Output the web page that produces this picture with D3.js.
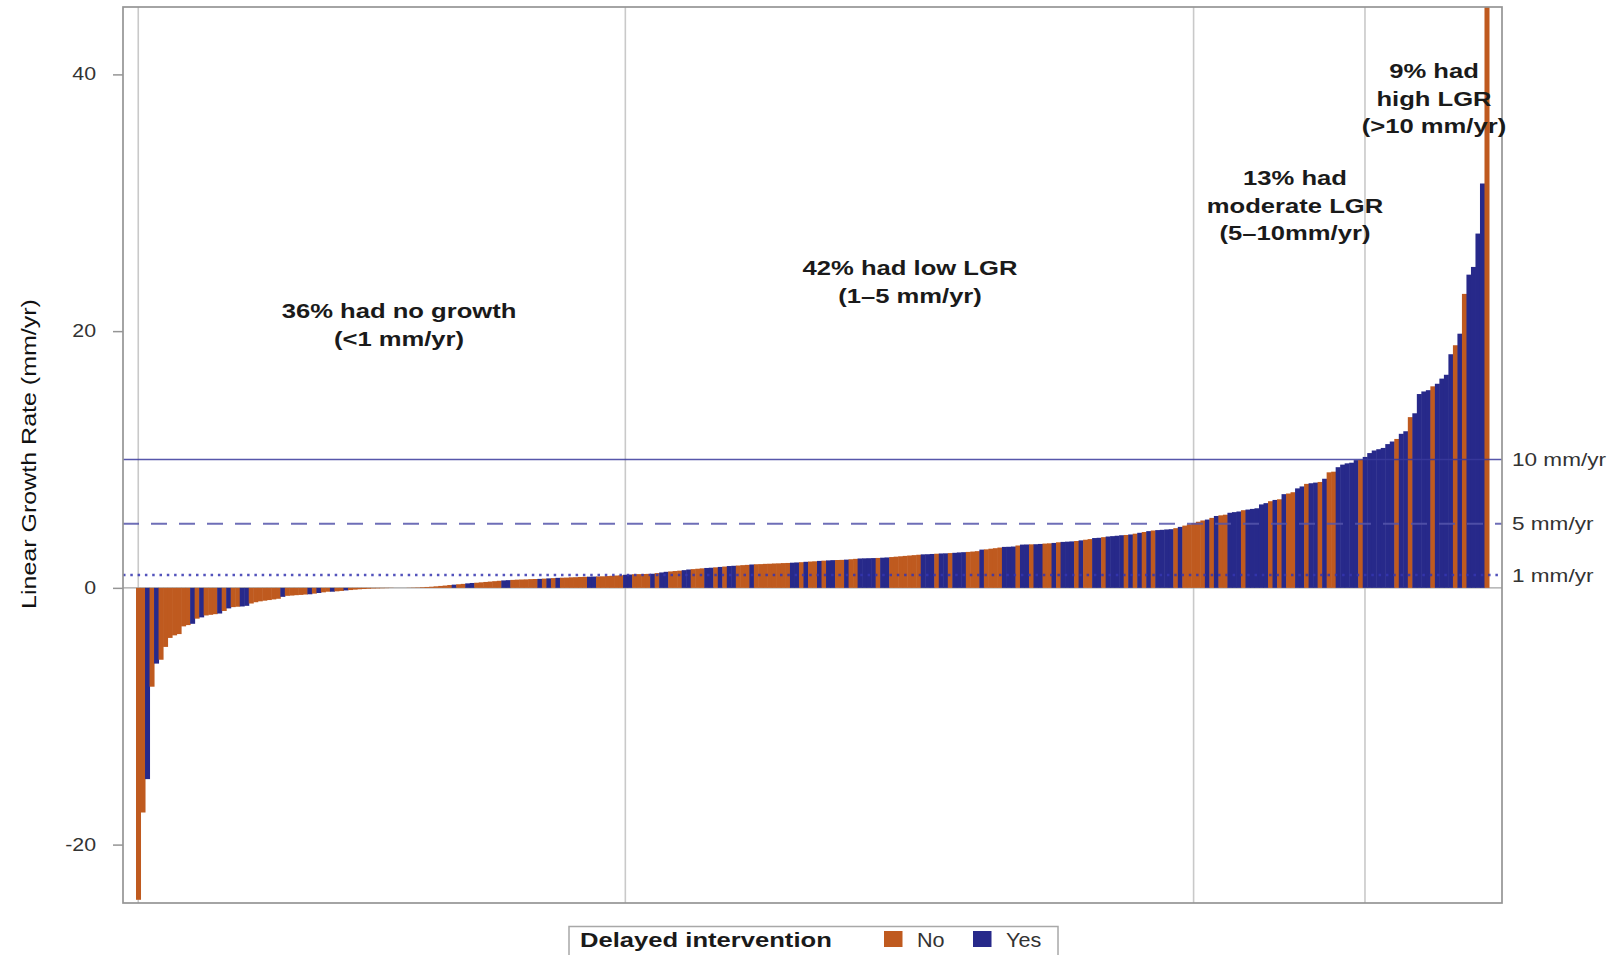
<!DOCTYPE html>
<html lang="en">
<head>
<meta charset="UTF-8">
<title>Linear Growth Rate waterfall</title>
<script src="https://cdn.jsdelivr.net/npm/d3@7.8.5/dist/d3.min.js"></script>
<style>
    body{
        margin:0;
        background:#fff;
    }
    svg{
        display:block;
        font-family:"Liberation Sans", Arial, sans-serif;
    }
</style>
</head>
<body>
<div id="chart"></div>
<script>
// Linear growth rate per patient (mm/yr), sorted, split by growth group
// delayed flags: 1 = Yes (delayed intervention), 0 = No
const noGrowthLGR = [
    -24.3,-17.5,-14.9,-7.7,-5.9,-5.6,-4.6,-3.9,-3.7,-3.6,
    -3.0,-2.9,-2.8,-2.4,-2.3,-2.15,-2.1,-2.05,-2.0,-1.8,
    -1.6,-1.5,-1.47,-1.45,-1.4,-1.22,-1.12,-1.05,-1.0,-0.95,
    -0.9,-0.85,-0.7,-0.62,-0.6,-0.57,-0.55,-0.52,-0.5,-0.45,
    -0.4,-0.35,-0.3,-0.3,-0.27,-0.24,-0.2,-0.17,-0.14,-0.11,
    -0.09,-0.07,-0.05,-0.04,-0.03,-0.02,-0.01,0,0,0,
    0.01,0.02,0.03,0.05,0.07,0.09,0.12,0.15,0.18,0.22,
    0.25,0.28,0.31,0.35,0.38,0.40,0.43,0.46,0.49,0.52,
    0.55,0.58,0.6,0.62,0.64,0.65,0.66,0.68,0.69,0.7,
    0.72,0.74,0.76,0.78,0.79,0.8,0.82,0.83,0.85,0.86,
    0.87,0.88,0.89,0.9,0.92,0.94,0.96,0.98
];
const noGrowthDelayed = [
    0,0,1,0,1,0,0,0,0,0,
    0,0,1,0,1,0,0,0,1,0,
    1,0,0,1,1,0,0,0,0,0,
    0,0,1,0,0,0,0,0,1,0,
    1,0,0,1,0,0,1,0,0,0,
    0,0,0,0,0,0,0,0,0,0,
    0,0,0,0,0,0,0,0,0,0,
    1,0,0,1,1,0,0,0,0,0,
    0,1,1,0,0,0,0,0,0,1,
    0,1,0,1,0,0,0,0,0,0,
    1,1,0,0,0,0,0,0
];

const lowLGR = [
    1.02,1.04,1.06,1.07,1.08,1.09,1.1,1.15,1.2,1.25,
    1.28,1.31,1.34,1.38,1.43,1.46,1.49,1.52,1.55,1.57,
    1.6,1.63,1.66,1.7,1.72,1.74,1.77,1.79,1.82,1.84,
    1.85,1.87,1.88,1.9,1.91,1.93,1.94,1.96,1.98,2.0,
    2.03,2.05,2.07,2.1,2.12,2.14,2.16,2.17,2.18,2.2,
    2.23,2.26,2.29,2.3,2.31,2.32,2.33,2.35,2.37,2.4,
    2.43,2.46,2.49,2.52,2.55,2.58,2.61,2.62,2.64,2.66,
    2.68,2.69,2.71,2.73,2.76,2.78,2.8,2.83,2.86,2.98,
    3.0,3.05,3.09,3.14,3.19,3.2,3.22,3.3,3.37,3.38,
    3.39,3.4,3.42,3.45,3.47,3.5,3.55,3.58,3.6,3.62,
    3.65,3.7,3.75,3.8,3.88,3.9,3.95,4.0,4.03,4.06,
    4.1,4.12,4.16,4.22,4.29,4.35,4.42,4.47,4.5,4.52,
    4.55,4.57,4.65,4.75,4.85,4.95
];
const lowDelayed = [
    1,1,0,0,0,0,1,0,1,1,
    0,0,0,1,1,0,0,0,1,1,
    0,1,0,1,1,0,0,0,1,0,
    0,0,0,0,0,0,0,1,1,0,
    1,0,0,1,0,1,1,0,0,1,
    0,0,1,1,1,1,0,1,1,0,
    0,0,0,0,0,0,1,1,1,0,
    1,1,0,1,1,1,0,0,0,1,
    0,0,0,0,1,1,1,0,1,1,
    0,1,1,0,0,1,0,1,1,1,
    0,1,0,0,1,1,0,1,1,1,
    1,0,1,0,1,0,1,0,1,1,
    1,1,0,1,0,0
];

const moderateLGR = [
    5.05,5.15,5.25,5.32,5.45,5.6,5.65,5.7,5.85,5.9,
    5.95,6.05,6.1,6.15,6.2,6.5,6.6,6.75,6.85,6.9,
    7.3,7.35,7.45,7.75,7.9,8.1,8.15,8.2,8.25,8.5,
    9.0,9.05,9.4,9.6,9.7,9.75,9.95,9.97
];
const moderateDelayed = [
    0,0,0,1,0,1,0,0,1,1,
    1,0,1,1,1,1,1,0,1,0,
    1,0,0,1,1,0,1,1,0,1,
    0,0,1,1,1,1,1,0
];

const highLGR = [
    10.2,10.5,10.7,10.8,10.9,11.2,11.4,11.6,12.0,12.2,
    13.3,13.6,15.1,15.3,15.4,15.7,15.9,16.3,16.6,18.2,
    18.9,19.8,22.9,24.4,25.0,27.6,31.5,46
];
const highDelayed = [
    1,1,1,1,1,1,1,0,1,1,
    0,1,1,1,1,0,1,1,1,1,
    0,1,0,1,1,1,1,0
];

const groupLabels = [
    ["36% had no growth", "(<1 mm/yr)"],
    ["42% had low LGR", "(1\u20135 mm/yr)"],
    ["13% had", "moderate LGR", "(5\u201310mm/yr)"],
    ["9% had", "high LGR", "(>10 mm/yr)"]
];
const refValues = [10, 5, 1];
const refLabels = ["10 mm/yr", "5 mm/yr", "1 mm/yr"];
const yTicks = [-20, 0, 20, 40];
const legendKeys = ["No", "Yes"];

// ---------------------------------------------------------------
const groups = [noGrowthLGR, lowLGR, moderateLGR, highLGR];
const flags = [noGrowthDelayed, lowDelayed, moderateDelayed, highDelayed];
const data = [];
groups.forEach((vals, g) => {
    vals.forEach((v, i) => data.push({ idx: data.length, value: v, delayed: flags[g][i] ? "Yes" : "No", group: g }));
});
const groupStart = groups.map((_, g) => data.findIndex(d => d.group === g));

const W = 1616, H = 955;
const frame = { left: 123, right: 1502, top: 7, bottom: 903 };
const STRETCH = 1.22;
const color = d3.scaleOrdinal().domain(legendKeys).range(["#BF5A1F", "#27298A"]);

const svg = d3.select("#chart").append("svg")
    .attr("width", W).attr("height", H);

const x = d3.scaleBand()
    .domain(data.map(d => d.idx))
    .range([136, 1489])
    .padding(0);

const y = d3.scaleLinear()
    .domain([-24.55, 45.25])
    .range([frame.bottom, frame.top]);

svg.append("defs").append("clipPath").attr("id", "plot-clip")
    .append("rect")
    .attr("x", frame.left).attr("y", frame.top)
    .attr("width", frame.right - frame.left).attr("height", frame.bottom - frame.top);

// vertical grid lines at group starts
svg.append("g").selectAll("line")
    .data(groupStart)
    .enter().append("line")
    .attr("x1", d => x(d) + x.bandwidth() / 2)
    .attr("x2", d => x(d) + x.bandwidth() / 2)
    .attr("y1", frame.top).attr("y2", frame.bottom)
    .attr("stroke", "#c9c9c9").attr("stroke-width", 1.6);

// zero baseline
svg.append("line")
    .attr("x1", frame.left).attr("x2", frame.right)
    .attr("y1", y(0)).attr("y2", y(0))
    .attr("stroke", "#a3a3a3").attr("stroke-width", 1.3);

// bars
svg.append("g").attr("clip-path", "url(#plot-clip)")
    .selectAll("rect")
    .data(data)
    .enter().append("rect")
    .attr("x", d => x(d.idx))
    .attr("width", x.bandwidth() + 0.5)
    .attr("y", d => Math.min(y(d.value), y(0)))
    .attr("height", d => Math.abs(y(d.value) - y(0)))
    .attr("fill", d => color(d.delayed));

// reference lines
const refStyle = [
    { dash: null, stroke: "#3a3a9c", width: 1.6 },
    { dash: "16,12", stroke: "#5555aa", width: 2 },
    { dash: "2.5,4.8", stroke: "#3535b0", width: 2.3 }
];
refValues.forEach((v, i) => {
    svg.append("line")
        .attr("x1", frame.left).attr("x2", frame.right)
        .attr("y1", y(v)).attr("y2", y(v))
        .attr("stroke", refStyle[i].stroke)
        .attr("stroke-width", refStyle[i].width)
        .attr("stroke-opacity", 0.85)
        .attr("stroke-dasharray", refStyle[i].dash);
    svg.append("text")
        .attr("transform", `translate(${frame.right + 10},${y(v)}) scale(${STRETCH},1)`)
        .attr("dy", "0.35em")
        .style("font-size", "18.5px")
        .attr("fill", "#333")
        .text(refLabels[i]);
});

// frame
svg.append("rect")
    .attr("x", frame.left).attr("y", frame.top)
    .attr("width", frame.right - frame.left).attr("height", frame.bottom - frame.top)
    .attr("fill", "none").attr("stroke", "#959595").attr("stroke-width", 1.7);

// y axis
const yAxis = svg.append("g")
    .attr("transform", `translate(${frame.left},0)`)
    .call(d3.axisLeft(y).tickValues(yTicks).tickSize(10).tickPadding(8).tickFormat(d => String(d)));
yAxis.select(".domain").remove();
yAxis.selectAll(".tick line").attr("stroke", "#959595").attr("stroke-width", 1.5);
yAxis.selectAll(".tick text")
    .attr("x", -27 / STRETCH)
    .attr("transform", `scale(${STRETCH},1)`)
    .style("font-size", "17.5px")
    .style("font-family", "'Liberation Sans', Arial, sans-serif")
    .attr("fill", "#333");

svg.append("text")
    .attr("transform", `translate(29,454) rotate(-90) scale(${STRETCH},1)`)
    .attr("text-anchor", "middle")
    .attr("dy", "0.35em")
    .style("font-size", "20.5px")
    .attr("fill", "#111")
    .text("Linear Growth Rate (mm/yr)");

// group annotations
const annoPos = [
    { x: 399, y: 318 },
    { x: 910, y: 275 },
    { x: 1295, y: 185 },
    { x: 1434, y: 78 }
];
groupLabels.forEach((lines, g) => {
    lines.forEach((t, j) => {
        svg.append("text")
            .attr("transform", `translate(${annoPos[g].x},${annoPos[g].y + j * 27.5}) scale(${STRETCH},1)`)
            .attr("text-anchor", "middle")
            .style("font-size", "21px")
            .style("font-weight", "bold")
            .attr("fill", "#1a1a1a")
            .text(t);
    });
});

// legend
const legend = svg.append("g");
legend.append("rect")
    .attr("x", 569).attr("y", 926.5)
    .attr("width", 489).attr("height", 40)
    .attr("fill", "none").attr("stroke", "#a8a8a8").attr("stroke-width", 1.5);
legend.append("text")
    .attr("transform", `translate(580,947) scale(1.28,1)`)
    .style("font-size", "20px")
    .style("font-weight", "bold")
    .attr("fill", "#1a1a1a")
    .text("Delayed intervention");
const legendX = [884, 973];
legendKeys.forEach((k, i) => {
    legend.append("rect")
        .attr("x", legendX[i]).attr("y", 931)
        .attr("width", 18.5).attr("height", 16)
        .attr("fill", color(k));
    legend.append("text")
        .attr("transform", `translate(${legendX[i] + 33},947) scale(1.08,1)`)
        .style("font-size", "20px")
        .attr("fill", "#333")
        .text(k);
});
</script>
</body>
</html>
